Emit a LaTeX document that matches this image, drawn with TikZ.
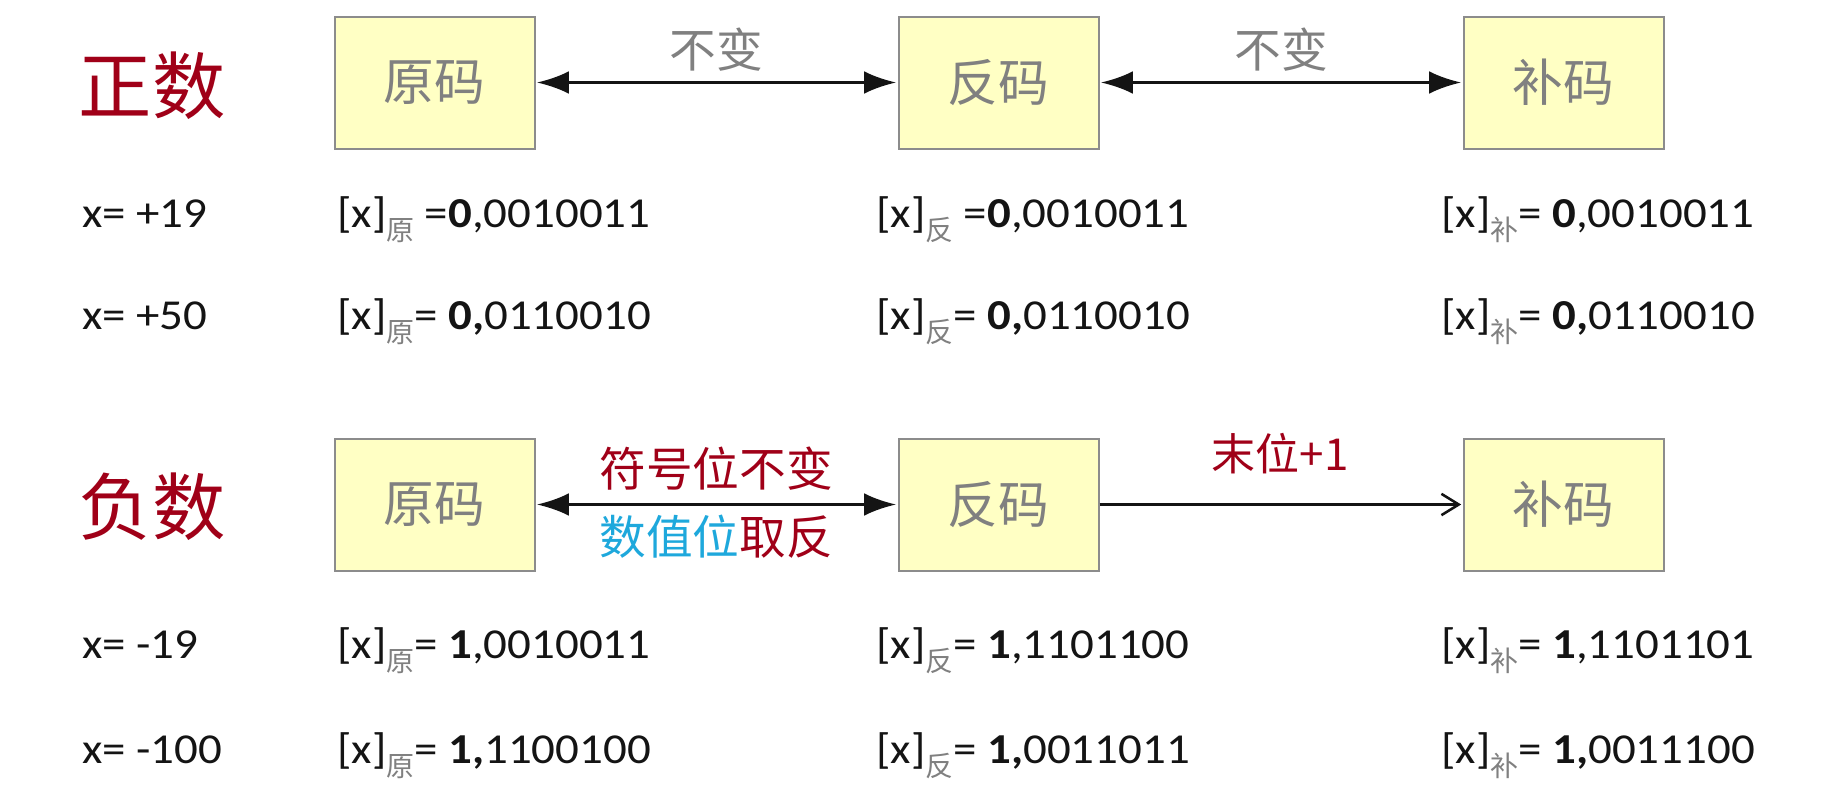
\documentclass[tikz,border=0pt]{standalone}
\usepackage{fontspec}
\setmainfont{Carlito}[FakeStretch=1.1]
\newfontfamily\cjk{Noto Sans CJK SC}
\usetikzlibrary{arrows.meta}

\definecolor{boxfill}{HTML}{FFFFC4}
\definecolor{boxline}{HTML}{8C8C8C}
\definecolor{labelgray}{HTML}{808080}
\definecolor{darkred}{HTML}{A00018}
\definecolor{cyanblue}{HTML}{1EA8DC}
\definecolor{inkblack}{HTML}{141414}

% lowered grey subscript for the code name
\newcommand\lowsub[1]{\raisebox{-10pt}{\fontsize{21}{22}\selectfont\cjk\color{labelgray}#1}}

\begin{document}
\begin{tikzpicture}[x=0.75pt,y=-0.75pt,
  codebox/.style={draw=boxline, line width=1.5pt, fill=boxfill,
    minimum width=150pt, minimum height=99pt, inner sep=0pt,
    text=labelgray, font=\cjk\fontsize{38}{40}\selectfont},
  sidetitle/.style={text=darkred, inner sep=0pt, font=\cjk\fontsize{55}{58}\selectfont},
  arrowlabel/.style={inner sep=0pt, font=\cjk\fontsize{35}{38}\selectfont},
  rowtxt/.style={anchor=base west, inner sep=0pt, text=inkblack,
    font=\fontsize{32}{34}\selectfont},
  bothways/.style={{Latex[length=24pt,width=17pt]}-{Latex[length=24pt,width=17pt]},
    line width=2.4pt, draw=inkblack, shorten <=1pt, shorten >=1pt},
  oneway/.style={-{Straight Barb[length=13pt,width=16pt,line width=1.9pt]},
    line width=2pt, draw=inkblack, shorten >=1pt},
]
\fill[white] (0,0) rectangle (1827,796);
\useasboundingbox (0,0) rectangle (1827,796);

% ---------- positive numbers ----------
\node[sidetitle] (pos) at (152,86) {正数};
\node[codebox] (p1) at (434.5,82.5) {原码};
\node[codebox] (p2) at (998.5,82.5) {反码};
\node[codebox] (p3) at (1563.5,82.5) {补码};
\draw[bothways] (p1) -- (p2);
\draw[bothways] (p2) -- (p3);
\node[arrowlabel, text=labelgray] (pl1) at (716,50) {不变};
\node[arrowlabel, text=labelgray] (pl2) at (1281,50) {不变};

\node[rowtxt] (a1) at (82,227) {x= +19};
\node[rowtxt] (a2) at (337,227) {[x]\lowsub{原} =\textbf{0},0010011};
\node[rowtxt] (a3) at (876,227) {[x]\lowsub{反} =\textbf{0},0010011};
\node[rowtxt] (a4) at (1441,227) {[x]\lowsub{补}= \textbf{0},0010011};

\node[rowtxt] (b1) at (82,329) {x= +50};
\node[rowtxt] (b2) at (337,329) {[x]\lowsub{原}= \textbf{0,}0110010};
\node[rowtxt] (b3) at (876,329) {[x]\lowsub{反}= \textbf{0,}0110010};
\node[rowtxt] (b4) at (1441,329) {[x]\lowsub{补}= \textbf{0,}0110010};

% ---------- negative numbers ----------
\node[sidetitle] (neg) at (152,507) {负数};
\node[codebox] (n1) at (434.5,504.5) {原码};
\node[codebox] (n2) at (998.5,504.5) {反码};
\node[codebox] (n3) at (1563.5,504.5) {补码};
\draw[bothways] (n1) -- (n2);
\draw[oneway] (n2) -- (n3);
\node[arrowlabel, text=darkred] (nl1) at (716,469) {符号位不变};
\node[arrowlabel] (nl2) at (716,537) {\color{cyanblue}数值位\color{darkred}取反};
\node[arrowlabel, text=darkred, font=\cjk\fontsize{33}{35}\selectfont] (nl3) at (1280,454) {末位+1};

\node[rowtxt] (c1) at (82,658) {x= -19};
\node[rowtxt] (c2) at (337,658) {[x]\lowsub{原}= \textbf{1},0010011};
\node[rowtxt] (c3) at (876,658) {[x]\lowsub{反}= \textbf{1},1101100};
\node[rowtxt] (c4) at (1441,658) {[x]\lowsub{补}= \textbf{1},1101101};

\node[rowtxt] (d1) at (82,763) {x= -100};
\node[rowtxt] (d2) at (337,763) {[x]\lowsub{原}= \textbf{1,}1100100};
\node[rowtxt] (d3) at (876,763) {[x]\lowsub{反}= \textbf{1,}0011011};
\node[rowtxt] (d4) at (1441,763) {[x]\lowsub{补}= \textbf{1,}0011100};
\end{tikzpicture}
\end{document}
